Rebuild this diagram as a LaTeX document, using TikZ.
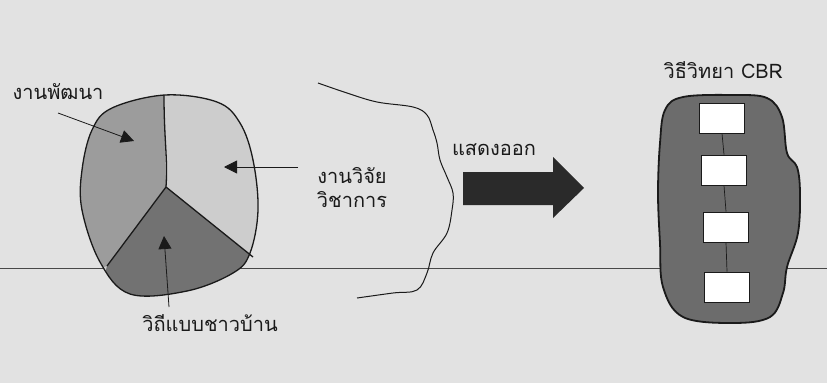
\documentclass[tikz,border=0pt]{standalone}
\usepackage{fontspec}
\newfontfamily\thaifont[Script=Thai]{Loma}
\usetikzlibrary{arrows.meta}
\definecolor{bgc}{HTML}{E2E2E2}
\definecolor{ink}{HTML}{1A1A1A}
\definecolor{lightw}{HTML}{CDCDCD}
\definecolor{midw}{HTML}{9C9C9C}
\definecolor{darkw}{HTML}{727272}
\definecolor{blobc}{HTML}{6C6C6C}
\definecolor{bigarrow}{HTML}{2A2A2A}
\tikzset{
  lbl/.style={font=\thaifont\fontsize{20}{24}\selectfont, text=ink, inner sep=0pt, align=center},
  ptr/.style={draw=ink, line width=0.8pt, -{Triangle[length=13pt,width=13pt]}},
  edge/.style={draw=ink, line width=1.3pt},
  stepbox/.style={draw=ink, line width=0.9pt, fill=white, minimum width=45pt, minimum height=30pt, inner sep=0pt},
  pieblob/.style={insert path={plot[smooth cycle, tension=0.6] coordinates {(165,95) (217,102) (240,123) (253,160) (258,210) (250,253) (233,273) (187,291) (130,294) (100,262) (82,210) (82,170) (92,130) (112,108)}}},
  cbrblob/.style={insert path={plot[smooth cycle, tension=0.6] coordinates {(683,97) (733,95) (767,98) (782,117) (787,153) (797,167) (800,193) (798,233) (787,267) (783,293) (770,317) (733,323) (683,317) (663,287) (660,243) (658,193) (660,143) (665,110)}}}
}
\begin{document}
\begin{tikzpicture}[x=1pt,y=-1pt]
\useasboundingbox[fill=bgc] (0,0) rectangle (827,383);
% scan ruling line
\draw[draw=ink!80, line width=0.7pt] (0,268) -- (827,268);

% ---- pie blob ----
\coordinate (pc) at (166,187);
\coordinate (ptop) at (164,95);
\coordinate (pll) at (107,266);
\coordinate (plr) at (253,257);
\fill[lightw][pieblob];
\begin{scope}
  \clip[pieblob];
  \fill[midw] (pc) -- (ptop) -- (40,60) -- (40,290) -- (pll) -- cycle;
  \fill[darkw] (pc) -- (pll) -- (90,330) -- (280,330) -- (plr) -- cycle;
\end{scope}
\draw[edge][pieblob];
\draw[edge] (ptop) .. controls (164,140) and (168,160) .. (pc);
\draw[edge] (pc) -- (pll);
\draw[edge] (pc) -- (plr);

% labels and pointers
\node[lbl] (dev) at (58,92) {งานพัฒนา};
\node[lbl] (folk) at (210,323) {วิถีแบบชาวบ้าน};
\coordinate (a1s) at (58,113);
\coordinate (a1e) at (134,141);
\coordinate (a2s) at (298,167);
\coordinate (a2e) at (224,167);
\coordinate (a3s) at (169,307);
\coordinate (a3e) at (164,236);
\draw[ptr] (a1s) -- (a1e);
\draw[ptr] (a2s) -- (a2e);
\draw[ptr] (a3s) -- (a3e);

% ---- wavy boundary ----
\draw[draw=ink, line width=1pt] plot[smooth, tension=0.6] coordinates {(318,83) (347,93) (377,102) (413,107) (427,115) (433,130) (437,143) (440,160) (447,177) (453,193) (452,210) (447,233) (433,253) (427,273) (417,290) (393,293) (357,298)};
\node[lbl] (acad) at (352,188) {งานวิจัย\\วิชาการ};

% ---- big arrow ----
\node[lbl] (show) at (494,150) {แสดงออก};
\fill[bigarrow] (463,172) -- (553,172) -- (553,157) -- (584,188) -- (553,218) -- (553,205) -- (463,205) -- cycle;

% ---- CBR blob ----
\node[lbl] (cbr) at (723,70) {วิธีวิทยา CBR};
\fill[blobc][cbrblob];
\draw[edge, line width=1.8pt][cbrblob];
\node[stepbox] (b1) at (722,118) {};
\node[stepbox] (b2) at (724,170) {};
\node[stepbox] (b3) at (726,227) {};
\node[stepbox] (b4) at (727,287) {};
\draw[draw=ink, line width=0.7pt] (b1.south) -- (b2.north);
\draw[draw=ink, line width=0.7pt] (b2.south) -- (b3.north);
\draw[draw=ink, line width=0.7pt] (b3.south) -- (b4.north);
\end{tikzpicture}
\end{document}
